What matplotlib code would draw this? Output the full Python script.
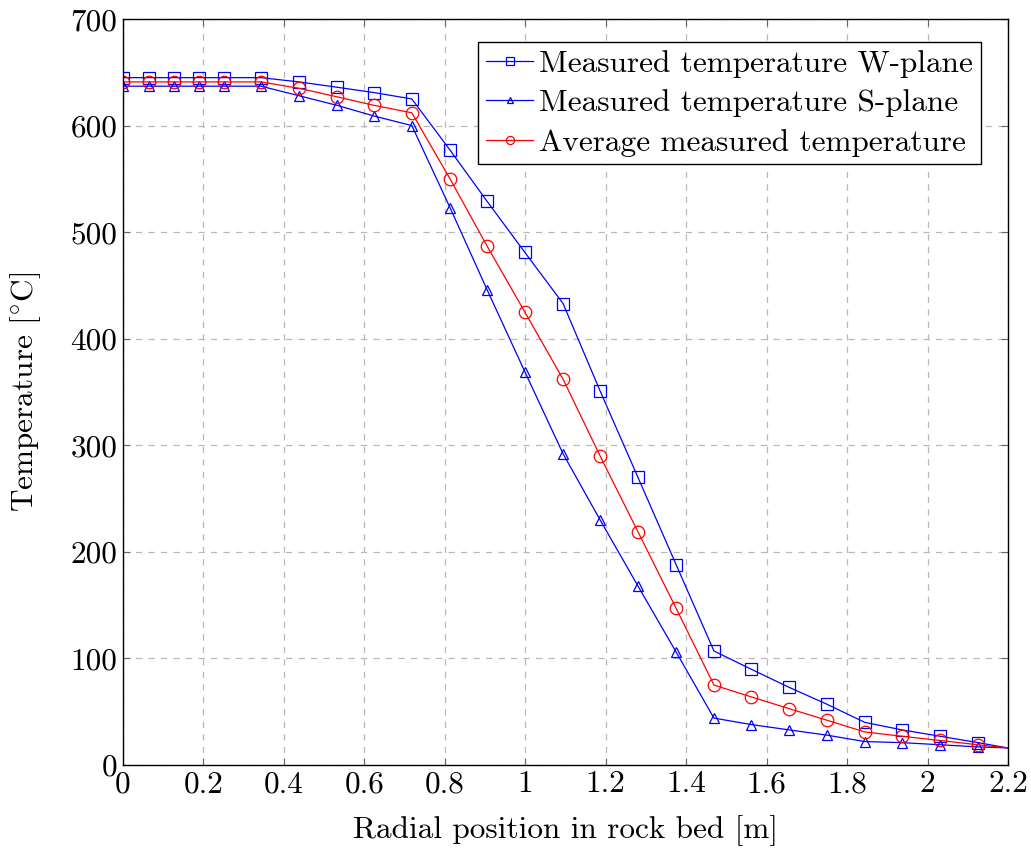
import matplotlib
matplotlib.use("Agg")
import matplotlib.pyplot as plt

plt.rcParams['font.family'] = ['cmr10', 'DejaVu Serif']
plt.rcParams['mathtext.fontset'] = 'cm'
plt.rcParams['axes.formatter.use_mathtext'] = True

x = [0.0, 0.065, 0.127, 0.19, 0.25, 0.343, 0.438, 0.532, 0.624, 0.718, 0.813,
     0.905, 0.999, 1.094, 1.186, 1.28, 1.375, 1.469, 1.561, 1.655, 1.75,
     1.844, 1.936, 2.031, 2.125, 2.2]
w_plane = [645, 645, 645, 645, 645, 645, 641, 636, 631, 625, 577,
           529, 481, 433, 351, 270, 188, 107, 90, 73, 57,
           40, 33, 27, 21, 16]
s_plane = [637, 637, 637, 637, 637, 637, 628, 619, 609, 600, 523,
           446, 369, 292, 230, 168, 106, 44, 38, 33, 28,
           22, 21, 19, 17, 16]
average = [641, 641, 641, 641, 641, 641, 635, 627, 619, 612, 550,
           487, 425, 362, 290, 219, 147, 75, 64, 53, 42,
           31, 27, 23, 19, 16]
labels = ["Measured temperature W-plane", "Measured temperature S-plane",
          "Average measured temperature"]
xticks = [0, 0.2, 0.4, 0.6, 0.8, 1, 1.2, 1.4, 1.6, 1.8, 2, 2.2]
yticks = [0, 100, 200, 300, 400, 500, 600, 700]

FS = 22.5

fig = plt.figure(figsize=(10.31, 8.5), dpi=100)
ax = fig.add_axes([0.1193, 0.1, 0.9777 - 0.1193, 0.9776 - 0.1])

mk = slice(0, len(x) - 1)
ax.plot(x, w_plane, color='blue', lw=0.9, marker='s', ms=9, mfc='none',
        mec='blue', mew=0.9, markevery=mk, label=labels[0])
ax.plot(x, s_plane, color='blue', lw=0.9, marker='^', ms=7, mfc='none',
        mec='blue', mew=0.9, markevery=mk, label=labels[1])
ax.plot(x, average, color='red', lw=0.9, marker='o', ms=9, mfc='none',
        mec='red', mew=0.9, markevery=mk, label=labels[2])

ax.set_xlim(0, 2.2)
ax.set_ylim(0, 700)
ax.set_xticks(xticks)
ax.set_xticklabels(['0', '0.2', '0.4', '0.6', '0.8', '1', '1.2', '1.4',
                    '1.6', '1.8', '2', '2.2'])
ax.set_yticks(yticks)
ax.set_yticklabels([str(v) for v in yticks])
ax.grid(True, color='#b8b8b8', linestyle=(0, (5, 5)), lw=0.9)
ax.tick_params(direction='in', top=True, right=True, labelsize=FS, length=5,
               width=0.8, color='#666666', pad=4)
for sp in ax.spines.values():
    sp.set_linewidth(1.0)

ax.set_xlabel('Radial position in rock bed [m]', fontsize=FS, labelpad=12)
ax.set_ylabel(r'Temperature [$^{\circ}$C]', fontsize=FS, labelpad=20)

leg = ax.legend(loc='upper right', fontsize=FS, frameon=True, fancybox=False,
                edgecolor='black', framealpha=1, handlelength=1.5,
                handletextpad=0.2, borderpad=0.25, labelspacing=0.37,
                bbox_to_anchor=(0.98, 0.982), markerscale=0.65,
                borderaxespad=0.3)
leg.get_frame().set_linewidth(1.0)

fig.savefig('out.png', dpi=100)
